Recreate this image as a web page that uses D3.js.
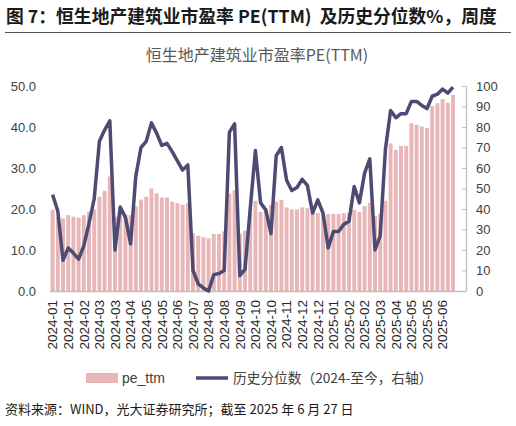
<!DOCTYPE html>
<html>
<head>
<meta charset="utf-8">
<script src="https://cdn.jsdelivr.net/npm/d3@7"></script>
<style>
  body { margin: 0; background: #fff; }
  svg { display: block; }
  text { font-family: "Liberation Sans", "Noto Sans CJK SC", sans-serif; }
  .cjk { font-family: "Noto Sans CJK SC", sans-serif; }
</style>
</head>
<body>
<script>
// weekly (Friday) observations
var weeks = [
  "2024-01-05","2024-01-12","2024-01-19","2024-01-26","2024-02-02","2024-02-09","2024-02-16","2024-02-23",
  "2024-03-01","2024-03-08","2024-03-15","2024-03-22","2024-03-29","2024-04-05","2024-04-12","2024-04-19",
  "2024-04-26","2024-05-03","2024-05-10","2024-05-17","2024-05-24","2024-05-31","2024-06-07","2024-06-14",
  "2024-06-21","2024-06-28","2024-07-05","2024-07-12","2024-07-19","2024-07-26","2024-08-02","2024-08-09",
  "2024-08-16","2024-08-23","2024-08-30","2024-09-06","2024-09-13","2024-09-20","2024-09-27","2024-10-04",
  "2024-10-11","2024-10-18","2024-10-25","2024-11-01","2024-11-08","2024-11-15","2024-11-22","2024-11-29",
  "2024-12-06","2024-12-13","2024-12-20","2024-12-27","2025-01-03","2025-01-10","2025-01-17","2025-01-24",
  "2025-01-31","2025-02-07","2025-02-14","2025-02-21","2025-02-28","2025-03-07","2025-03-14","2025-03-21",
  "2025-03-28","2025-04-04","2025-04-11","2025-04-18","2025-04-25","2025-05-02","2025-05-09","2025-05-16",
  "2025-05-23","2025-05-30","2025-06-06","2025-06-13","2025-06-20","2025-06-27"
];

// PE(TTM), left axis
var peTtm = [
  19.8,18.1,17.7,18.5,18.1,17.9,18.5,19.3,19.9,23.0,24.4,27.9,18.1,19.0,18.7,18.5,
  20.6,22.3,23.0,25.0,23.8,22.8,22.8,21.8,21.4,21.0,21.4,14.1,13.5,13.1,12.8,13.9,
  13.9,14.5,23.8,24.6,14.0,14.7,19.3,22.0,19.3,20.2,21.0,21.8,22.2,20.4,19.9,19.9,
  20.4,20.2,19.8,19.0,18.4,18.8,18.8,18.8,19.0,19.0,19.8,19.3,20.7,21.5,18.3,18.8,
  22.0,36.0,34.4,35.4,35.4,40.9,40.5,40.1,39.8,45.1,45.8,46.8,45.9,47.8
];

// historical percentile %, right axis
var pctRank = [
  47,39,15,21,18.5,15.5,22,33,45,73,78.5,83,20,41,36,23,
  56,70,73,82,77,71,72,68,63.5,59,61.5,10,3.5,1.5,0,8,
  8.5,10,77.5,81.5,7.5,10.5,40,68.5,43,39.5,28,66,70,54,49,50.5,
  54.5,51.5,38,44.5,38,21,29,29,32.5,34,51,43,57.5,64.5,20,27,
  69,88,84.5,86.5,86.5,92.5,92.5,90.5,89,95,96,98.5,96.5,99.5
];

var leftTicks = [0, 10, 20, 30, 40, 50];
var rightTicks = [0, 10, 20, 30, 40, 50, 60, 70, 80, 90, 100];

var W = 516, H = 426;
var plotL = 50, plotR = 466, plotT = 86, plotB = 291;
var step = (plotR - plotL) / 80;   // axis keeps two empty weekly slots on the right

var svg = d3.select("body").append("svg")
  .attr("width", W).attr("height", H);

// header
svg.append("text")
  .attr("class", "cjk")
  .attr("x", 6).attr("y", 23)
  .attr("font-size", 17.8).attr("font-weight", "bold").attr("fill", "#1a1a1a")
  .attr("xml:space", "preserve")
  .text("图 7：恒生地产建筑业市盈率 PE(TTM)  及历史分位数%，周度");
svg.append("line")
  .attr("x1", 5).attr("x2", 511).attr("y1", 32.5).attr("y2", 32.5)
  .attr("stroke", "#555").attr("stroke-width", 1);

svg.append("text")
  .attr("class", "cjk")
  .attr("x", 257).attr("y", 61)
  .attr("text-anchor", "middle")
  .attr("font-size", 16).attr("fill", "#595959")
  .text("恒生地产建筑业市盈率PE(TTM)");

var x = d3.scaleBand()
  .domain(weeks)
  .range([plotL, plotL + step * weeks.length])
  .paddingInner(0.24).paddingOuter(0.12);

var y = d3.scaleLinear().domain([0, 50]).range([plotB, plotT]);
var y2 = d3.scaleLinear().domain([0, 100]).range([plotB, plotT]);

// bars
svg.append("g")
  .selectAll("rect")
  .data(weeks)
  .join("rect")
  .attr("x", function(d){ return x(d); })
  .attr("width", x.bandwidth())
  .attr("y", function(d, i){ return y(peTtm[i]); })
  .attr("height", function(d, i){ return y(0) - y(peTtm[i]); })
  .attr("fill", "#e8b6b6");

// left axis
var gl = svg.append("g")
  .attr("transform", "translate(" + plotL + ",0)")
  .call(d3.axisLeft(y).tickValues(leftTicks).tickFormat(d3.format(".1f")).tickSize(0).tickPadding(14));
gl.select(".domain").remove();
gl.selectAll("text").attr("font-size", 13).attr("fill", "#404040");

// right axis
var gr = svg.append("g")
  .attr("transform", "translate(" + plotR + ",0)")
  .call(d3.axisRight(y2).tickValues(rightTicks).tickSizeInner(-4).tickSizeOuter(0).tickPadding(10));
gr.select(".domain").attr("stroke", "#bfbfbf").attr("stroke-width", 1.3);
gr.selectAll(".tick line").attr("stroke", "#bfbfbf");
gr.selectAll("text").attr("font-size", 13).attr("fill", "#404040");

// bottom axis
var gb = svg.append("g")
  .attr("transform", "translate(0," + plotB + ")")
  .call(d3.axisBottom(x)
    .tickValues(weeks.filter(function(d, i){ return i % 3 === 0; }))
    .tickFormat(function(d){ return d.slice(0, 7); })
    .tickSize(0));
gb.select(".domain")
  .attr("d", "M" + plotL + ",0.5H" + plotR)
  .attr("stroke", "#bfbfbf").attr("stroke-width", 1.5);
gb.selectAll("text")
  .attr("font-size", 13.5).attr("fill", "#262626")
  .attr("text-anchor", "end")
  .attr("transform", "rotate(-90)")
  .attr("x", -9).attr("y", 0).attr("dy", "0.35em");

// percentile line
var line = d3.line()
  .x(function(d, i){ return x(weeks[i]) + x.bandwidth() / 2; })
  .y(function(d){ return y2(d); });

svg.append("path")
  .datum(pctRank)
  .attr("fill", "none")
  .attr("stroke", "#4d4b73")
  .attr("stroke-width", 3.5)
  .attr("stroke-linejoin", "round")
  .attr("d", line);

// legend
var lg = svg.append("g");
lg.append("rect").attr("x", 86).attr("y", 373).attr("width", 32).attr("height", 10).attr("fill", "#e8b6b6");
lg.append("text").attr("x", 122).attr("y", 383).attr("font-size", 14).attr("fill", "#404040").text("pe_ttm");
lg.append("line").attr("x1", 196).attr("x2", 228).attr("y1", 378).attr("y2", 378)
  .attr("stroke", "#4d4b73").attr("stroke-width", 3.5);
lg.append("text").attr("class", "cjk").attr("x", 233).attr("y", 383).attr("font-size", 13.7).attr("fill", "#404040")
  .text("历史分位数（2024-至今，右轴）");

// source
svg.append("text")
  .attr("class", "cjk")
  .attr("x", 5).attr("y", 414)
  .attr("font-size", 13).attr("fill", "#1a1a1a")
  .text("资料来源：WIND，光大证券研究所；截至 2025 年 6 月 27 日");
</script>
</body>
</html>
